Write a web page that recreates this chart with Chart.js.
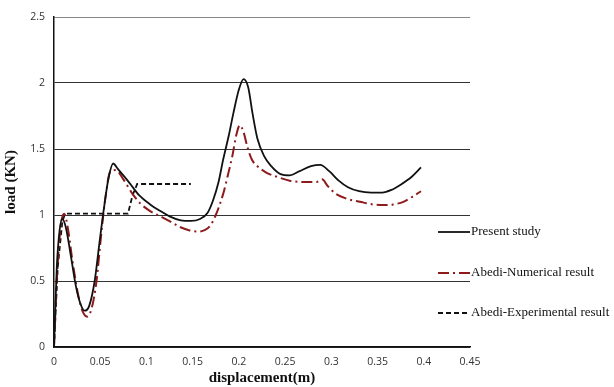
<!DOCTYPE html>
<html>
<head>
<meta charset="utf-8">
<script src="https://cdn.jsdelivr.net/npm/chart.js@4.4.0/dist/chart.umd.min.js"></script>
<style>
  html, body { margin: 0; padding: 0; background: #fff; }
  #wrap { width: 614px; height: 387px; }
</style>
</head>
<body>
<div id="wrap"><canvas id="loadChart" width="614" height="387"></canvas></div>
<script>
// --- Data: displacement (m) vs load (KN) ---
const presentDisp = [0, 0.003, 0.006, 0.009, 0.013, 0.018, 0.024, 0.029, 0.033, 0.038, 0.044, 0.049, 0.054, 0.059, 0.064, 0.069, 0.075, 0.082, 0.092, 0.104, 0.115, 0.125, 0.137, 0.148, 0.158, 0.166, 0.172, 0.178, 0.183, 0.189, 0.194, 0.2, 0.205, 0.21, 0.215, 0.22, 0.227, 0.235, 0.245, 0.255, 0.265, 0.278, 0.288, 0.298, 0.308, 0.318, 0.33, 0.343, 0.355, 0.365, 0.375, 0.387, 0.397];
const presentLoad = [0, 0.6, 0.88, 0.97, 0.9, 0.7, 0.45, 0.32, 0.275, 0.31, 0.5, 0.78, 1.05, 1.28, 1.39, 1.35, 1.3, 1.24, 1.15, 1.08, 1.03, 0.99, 0.96, 0.955, 0.97, 1.015, 1.11, 1.25, 1.42, 1.6, 1.77, 1.95, 2.03, 1.97, 1.76, 1.58, 1.45, 1.37, 1.31, 1.3, 1.33, 1.37, 1.38, 1.33, 1.26, 1.21, 1.18, 1.17, 1.17, 1.19, 1.23, 1.29, 1.36];

const numericalDisp = [0, 0.003, 0.007, 0.011, 0.015, 0.02, 0.026, 0.031, 0.036, 0.041, 0.046, 0.051, 0.056, 0.061, 0.067, 0.075, 0.084, 0.093, 0.104, 0.115, 0.126, 0.136, 0.146, 0.155, 0.163, 0.169, 0.175, 0.183, 0.188, 0.193, 0.197, 0.201, 0.205, 0.209, 0.214, 0.22, 0.23, 0.241, 0.255, 0.27, 0.284, 0.29, 0.296, 0.305, 0.318, 0.331, 0.345, 0.356, 0.367, 0.378, 0.388, 0.397];
const numericalLoad = [0, 0.5, 0.9, 1.01, 0.9, 0.65, 0.4, 0.27, 0.23, 0.3, 0.5, 0.85, 1.15, 1.33, 1.34, 1.27, 1.17, 1.09, 1.03, 0.99, 0.95, 0.91, 0.885, 0.875, 0.885, 0.92, 1.0, 1.16, 1.3, 1.45, 1.6, 1.68, 1.63, 1.52, 1.42, 1.37, 1.32, 1.29, 1.26, 1.25, 1.25, 1.27, 1.22, 1.16, 1.12, 1.1, 1.08, 1.075, 1.08, 1.1, 1.14, 1.18];

const experimentalDisp = [0, 0.004, 0.009, 0.012, 0.08, 0.085, 0.09, 0.148];
const experimentalLoad = [0, 0.6, 0.95, 1.01, 1.01, 1.15, 1.235, 1.235];

const seriesNames = ["Present study", "Abedi-Numerical result", "Abedi-Experimental result"];

const DARK_RED = "#8e1b1b";

function toPoints(xs, ys) {
    return xs.map((x, i) => ({ x: x, y: ys[i] }));
}

// Legend drawn at the right side, partly over the plot edge
const sideLegend = {
    id: "sideLegend",
    afterDraw(chart) {
        const ctx = chart.ctx;
        const rows = [232, 273, 313];
        ctx.save();
        chart.data.datasets.forEach((ds, i) => {
            const y = rows[i];
            ctx.beginPath();
            ctx.strokeStyle = ds.borderColor;
            ctx.lineWidth = ds.borderWidth;
            ctx.setLineDash(ds.borderDash || []);
            ctx.moveTo(438, y);
            ctx.lineTo(470, y);
            ctx.stroke();
            ctx.setLineDash([]);
            ctx.fillStyle = "#111";
            ctx.font = "13px 'Liberation Serif', serif";
            ctx.textBaseline = "middle";
            ctx.textAlign = "left";
            ctx.fillText(seriesNames[i], 471, y);
        });
        ctx.restore();
    }
};

const fmt = v => String(parseFloat(Number(v).toFixed(2)));

new Chart(document.getElementById("loadChart"), {
    type: "scatter",
    data: {
        datasets: [
            {
                label: seriesNames[0],
                data: toPoints(presentDisp, presentLoad),
                showLine: true,
                borderColor: "#111",
                borderWidth: 1.8,
                pointRadius: 0,
                cubicInterpolationMode: "monotone"
            },
            {
                label: seriesNames[1],
                data: toPoints(numericalDisp, numericalLoad),
                showLine: true,
                borderColor: DARK_RED,
                borderWidth: 2,
                borderDash: [11, 4, 2, 4],
                pointRadius: 0,
                cubicInterpolationMode: "monotone"
            },
            {
                label: seriesNames[2],
                data: toPoints(experimentalDisp, experimentalLoad),
                showLine: true,
                borderColor: "#111",
                borderWidth: 1.8,
                borderDash: [5, 3],
                pointRadius: 0,
                tension: 0
            }
        ]
    },
    options: {
        responsive: false,
        animation: false,
        layout: { padding: { top: 17, right: 144, left: 0, bottom: 0 } },
        plugins: {
            legend: { display: false },
            tooltip: { enabled: false }
        },
        scales: {
            x: {
                type: "linear",
                min: 0,
                max: 0.45,
                afterFit: scale => { scale.height = 40; },
                ticks: {
                    stepSize: 0.05,
                    padding: 9,
                    color: "#333",
                    font: { family: "'Open Sans', sans-serif", size: 10.5 },
                    callback: fmt
                },
                grid: { display: false, drawTicks: false },
                border: { display: true, color: "#111", width: 1.5 },
                title: {
                    display: true,
                    text: "displacement(m)",
                    color: "#111",
                    padding: { top: 0, bottom: 0 },
                    font: { family: "'Liberation Serif', serif", size: 15, weight: "bold" }
                }
            },
            y: {
                min: 0,
                max: 2.5,
                afterFit: scale => { scale.width = 54; },
                ticks: {
                    stepSize: 0.5,
                    padding: 9,
                    color: "#333",
                    font: { family: "'Open Sans', sans-serif", size: 10.5 },
                    callback: fmt
                },
                grid: {
                    drawTicks: false,
                    color: ctx => (ctx.tick && ctx.tick.value === 2.5) ? "#888" : "#333",
                    lineWidth: 1
                },
                border: { display: true, color: "#111", width: 1.5 },
                title: {
                    display: true,
                    text: "load (KN)",
                    color: "#111",
                    padding: { top: 2, bottom: 4 },
                    font: { family: "'Liberation Serif', serif", size: 15, weight: "bold" }
                }
            }
        }
    },
    plugins: [sideLegend]
});
</script>
</body>
</html>
